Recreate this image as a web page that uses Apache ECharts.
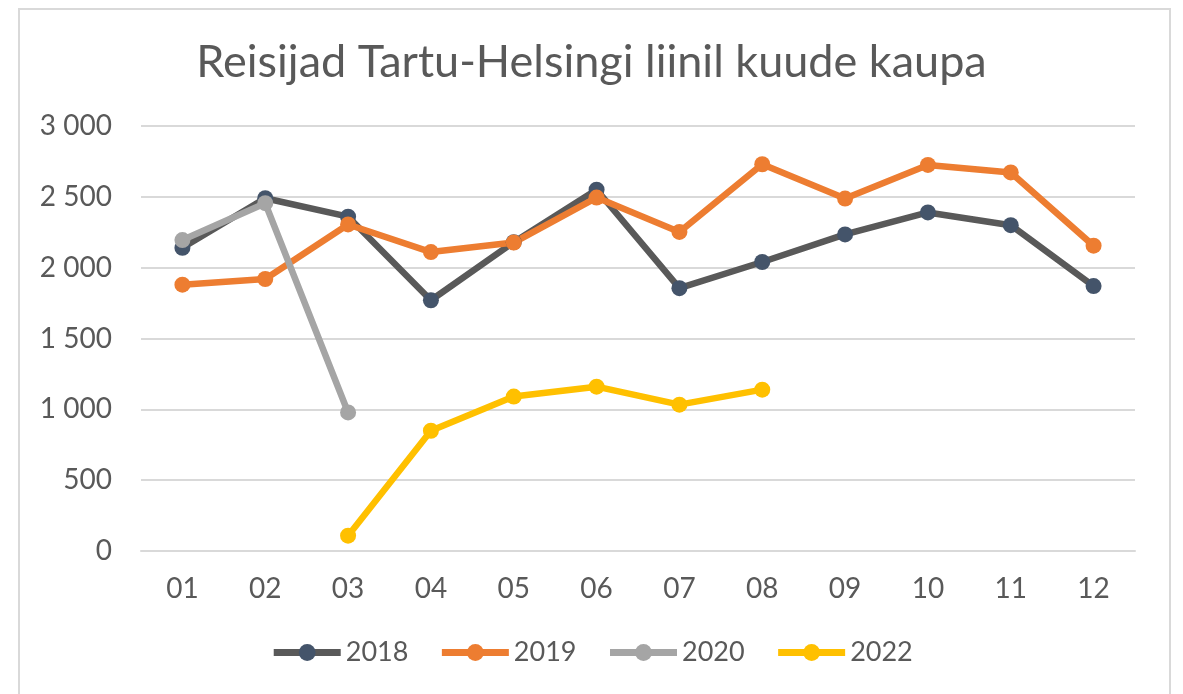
<!DOCTYPE html>
<html>
<head>
<meta charset="utf-8">
<script src="https://cdn.jsdelivr.net/npm/echarts@6/dist/echarts.min.js"></script>
<style>
  html, body { margin: 0; padding: 0; background: #fff; }
  #main { width: 1183px; height: 694px; }
</style>
</head>
<body>
<div id="main"></div>
<script>
// kuud ja reisijate arv
var months = ['01', '02', '03', '04', '05', '06', '07', '08', '09', '10', '11', '12'];
var y2018 = [2140, 2490, 2360, 1770, 2180, 2550, 1855, 2040, 2235, 2390, 2300, 1870];
var y2019 = [1880, 1920, 2305, 2110, 2177, 2495, 2252, 2730, 2488, 2725, 2672, 2155];
var y2020 = [2195, 2455, 978, null, null, null, null, null, null, null, null, null];
var y2022 = [null, null, 108, 849, 1090, 1160, 1033, 1139, null, null, null, null];

function fmt(v) {
  return String(v).replace(/\B(?=(\d{3})+(?!\d))/g, ' ');
}

function line(name, data, lineColor, dotColor) {
  return {
    name: name,
    type: 'line',
    data: data,
    symbol: 'circle',
    symbolSize: 16,
    lineStyle: { color: lineColor, width: 6.5 },
    itemStyle: { color: dotColor },
    emphasis: { disabled: true },
    connectNulls: false
  };
}

var myChart = echarts.init(document.getElementById('main'));
var option = {
  animation: false,
  title: {
    text: 'Reisijad Tartu-Helsingi liinil kuude kaupa',
    left: 'center',
    top: 35,
    textStyle: { fontFamily: 'Lato', fontSize: 45, fontWeight: 'normal', color: '#595959' }
  },
  graphic: [{
    type: 'rect',
    shape: { x: 19, y: 9, width: 1151, height: 700 },
    style: { fill: 'none', stroke: '#d9d9d9', lineWidth: 2 },
    silent: true
  }],
  legend: {
    bottom: 23,
    left: 'center',
    itemWidth: 67,
    itemHeight: 21,
    itemGap: 30,
    lineStyle: { width: 7 },
    textStyle: { fontFamily: 'Lato', fontSize: 27, color: '#595959' },
    data: ['2018', '2019', '2020', '2022']
  },
  grid: { left: 141, right: 48, top: 126, bottom: 143 },
  xAxis: {
    type: 'category',
    data: months,
    axisLine: { show: true, lineStyle: { color: '#d9d9d9', width: 2 } },
    axisTick: { show: false },
    axisLabel: { fontFamily: 'Lato', fontSize: 28, color: '#595959', margin: 24 }
  },
  yAxis: {
    type: 'value',
    min: 0,
    max: 3000,
    interval: 500,
    axisLine: { show: false },
    axisTick: { show: false },
    splitLine: { lineStyle: { color: '#d9d9d9', width: 2 } },
    axisLabel: { fontFamily: 'Lato', fontSize: 28, color: '#595959', margin: 29, formatter: fmt }
  },
  series: [
    line('2018', y2018, '#595959', '#44546A'),
    line('2019', y2019, '#ED7D31', '#ED7D31'),
    line('2020', y2020, '#A5A5A5', '#A5A5A5'),
    line('2022', y2022, '#FFC000', '#FFC000')
  ]
};
myChart.setOption(option);
</script>
</body>
</html>
